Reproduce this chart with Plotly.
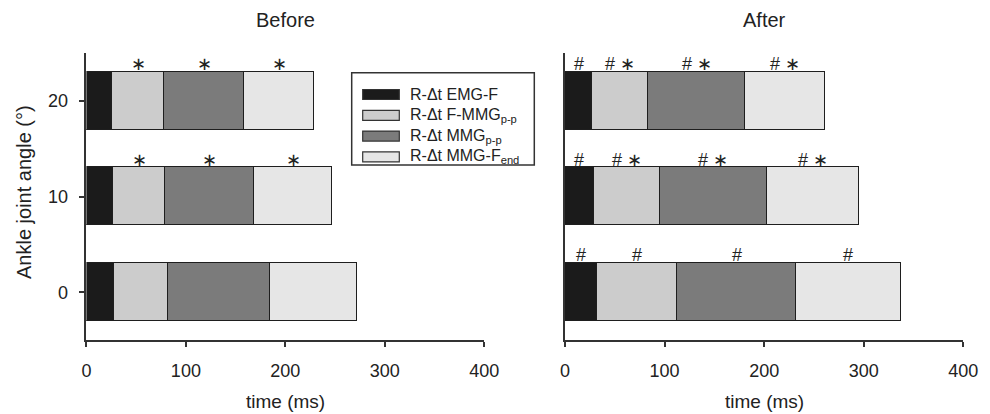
import plotly.graph_objects as go

# ---------------- data ----------------
angles = [0, 10, 20]  # ankle joint angle (deg)

segment_names = ["R-Δt EMG-F", "R-Δt F-MMG<sub>p-p</sub>", "R-Δt MMG<sub>p-p</sub>", "R-Δt MMG-F<sub>end</sub>"]
segment_colors = ["#1b1b1b", "#cccccc", "#7b7b7b", "#e6e6e6"]

# Before (segment durations, ms) for angles 0, 10, 20
before_emg_f = [28.4, 26.7, 26.0]
before_f_mmg = [54.3, 52.6, 52.0]
before_mmg_pp = [101.8, 89.1, 81.1]
before_mmg_fend = [87.5, 79.1, 70.6]

# After
after_emg_f = [31.8, 29.1, 27.4]
after_f_mmg = [81.0, 66.6, 55.9]
after_mmg_pp = [119.4, 106.8, 97.7]
after_mmg_fend = [104.8, 92.7, 80.0]

# significance marks per angle (0, 10, 20), per segment
before_marks = [["", "", "", ""], ["", "∗", "∗", "∗"], ["", "∗", "∗", "∗"]]
after_marks = [["#", "#", "#", "#"], ["#", "# ∗", "# ∗", "# ∗"], ["#", "# ∗", "# ∗", "# ∗"]]

x_ticks = [0, 100, 200, 300, 400]
y_ticks = [0, 10, 20]

# ---------------- styling ----------------
W, H = 990, 414
FONT = "Liberation Sans, Arial, sans-serif"
TXT = "#222222"
LINE = "#333333"
BAR_WIDTH = 6.05


def px(x):
    return x / W


def py(y):
    return 1 - y / H


fig = go.Figure()

panels = [
    ("x", "y", [before_emg_f, before_f_mmg, before_mmg_pp, before_mmg_fend], before_marks),
    ("x2", "y2", [after_emg_f, after_f_mmg, after_mmg_pp, after_mmg_fend], after_marks),
]

annotations = []
for xa, ya, series, marks in panels:
    for name, vals, col in zip(segment_names, series, segment_colors):
        fig.add_trace(go.Bar(
            y=angles, x=vals, orientation="h", width=BAR_WIDTH, name=name,
            marker=dict(color=col, line=dict(color="#1e1e1e", width=1.5)),
            xaxis=xa, yaxis=ya, showlegend=False,
        ))
    for i, a in enumerate(angles):
        start = 0.0
        for s, vals in enumerate(series):
            v = vals[i]
            label = marks[i][s]
            if label:
                annotations.append(dict(
                    x=start + v / 2, y=a + BAR_WIDTH / 2, xref=xa, yref=ya,
                    text=label, showarrow=False, yanchor="bottom", xanchor="center",
                    yshift=-4, font=dict(size=18, family=FONT, color=TXT),
                ))
            start += v

fig.update_layout(barmode="stack")

# titles and axis titles
xl = (px(86.4), px(484.3))
xr = (px(565), px(963.3))
yd = (py(340), py(53.3))


def label(x, y, text, size, **kw):
    d = dict(x=x, y=y, xref="paper", yref="paper", text=text, showarrow=False,
             xanchor="center", yanchor="middle", font=dict(size=size, family=FONT, color=TXT))
    d.update(kw)
    return d


annotations += [
    label((xl[0] + xl[1]) / 2, py(20), "Before", 20),
    label((xr[0] + xr[1]) / 2, py(20), "After", 20),
    label((xl[0] + xl[1]) / 2, py(401), "time (ms)", 19),
    label((xr[0] + xr[1]) / 2, py(401), "time (ms)", 19),
    label(px(24), py(192), "Ankle joint angle (°)", 20, textangle=-90),
]

# manual legend
shapes = [dict(type="rect", xref="paper", yref="paper", x0=px(351.7), x1=px(534.3),
               y0=py(165), y1=py(72.7), line=dict(color=LINE, width=1.5), fillcolor="white")]
for k, (name, col) in enumerate(zip(segment_names, segment_colors)):
    yc = 94.5 + 20.8 * k
    shapes.append(dict(type="rect", xref="paper", yref="paper", x0=px(362.7), x1=px(399.3),
                       y0=py(yc + 5), y1=py(yc - 5), line=dict(color=LINE, width=1.2),
                       fillcolor=col))
    annotations.append(label(px(408), py(yc), name, 16, xanchor="left"))

axis_common = dict(showgrid=False, zeroline=False, showline=True, linecolor=LINE, linewidth=1.5,
                   tickfont=dict(size=18, family=FONT, color=TXT), tickcolor=LINE, tickwidth=1.5)

fig.update_layout(
    width=W, height=H, margin=dict(l=0, r=0, t=0, b=0, pad=0, autoexpand=False),
    autosize=False,
    paper_bgcolor="white", plot_bgcolor="white",
    font=dict(family=FONT, color=TXT),
    xaxis=dict(domain=list(xl), range=[0, 400], tickvals=x_ticks, ticks="outside", ticklen=5,
               ticklabelstandoff=9, anchor="y", **axis_common),
    yaxis=dict(domain=list(yd), range=[-5, 25], tickvals=y_ticks, ticks="outside", ticklen=6,
               ticklabelstandoff=7, anchor="x", **axis_common),
    xaxis2=dict(domain=list(xr), range=[0, 400], tickvals=x_ticks, ticks="outside", ticklen=5,
                ticklabelstandoff=9, anchor="y2", **axis_common),
    yaxis2=dict(domain=list(yd), range=[-5, 25], tickvals=y_ticks, ticks="", showticklabels=False,
                anchor="x2", **axis_common),
    annotations=annotations, shapes=shapes, bargap=0,
)

fig.write_html("out.html", config={"responsive": False})
